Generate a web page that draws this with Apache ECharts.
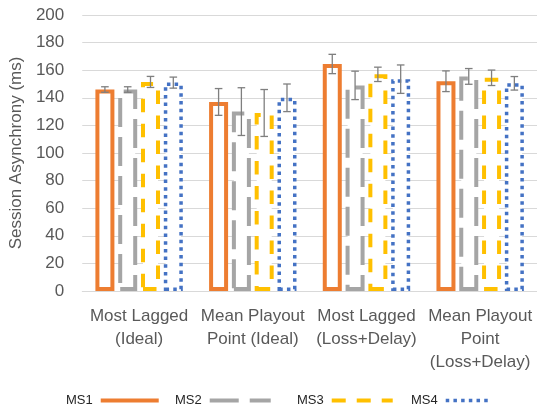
<!DOCTYPE html>
<html>
<head>
<meta charset="utf-8">
<script src="https://cdn.jsdelivr.net/npm/echarts@6/dist/echarts.min.js"></script>
<style>html,body{margin:0;padding:0;background:#fff;}#c{width:537px;height:411px;}</style>
</head>
<body>
<div id="c"></div>
<script>
var categories = ['Most Lagged\n(Ideal)', 'Mean Playout\nPoint (Ideal)', 'Most Lagged\n(Loss+Delay)', 'Mean Playout\nPoint\n(Loss+Delay)'];
var seriesNames = ['MS1', 'MS2', 'MS3', 'MS4'];
var ms1 = [146, 137, 164.5, 152];
var ms2 = [146, 130, 149, 155.5];
var ms3 = [151.5, 129, 157, 154.5];
var ms4 = [151, 140, 153.5, 150.5];
var err1 = [2, 9.7, 7, 7.5];
var err2 = [2, 17.3, 10.3, 5.7];
var err3 = [4, 17, 5.2, 5.6];
var err4 = [4, 10, 10.3, 4.9];
var yTicks = [0, 20, 40, 60, 80, 100, 120, 140, 160, 180, 200];

var values = [ms1, ms2, ms3, ms4];
var errs = [err1, err2, err3, err4];
var colors = ['#ED7D31', '#A5A5A5', '#FFC000', '#4472C4'];
var dashes = ['solid', [29, 10], [13.5, 11.5], [3.5, 4.2]];
var widths = [4, 4, 4, 3.5];
var legendDashes = ['solid', [29, 11], [14, 11], [3.5, 4.2]];
var legendLeft = [61, 170, 292, 406];
var legendIconW = [58, 61, 61, 46];

var BW = 19, GAP_RATIO = 0.2;
var GAP = BW * GAP_RATIO;
var TOTAL = 4 * BW + 3 * GAP;

var series = [];
// dummy line series for legend icons
seriesNames.forEach(function (n, i) {
  series.push({
    name: n, type: 'line', data: [], symbol: 'circle',
    lineStyle: { color: colors[i], width: widths[i], type: legendDashes[i] },
    itemStyle: { color: colors[i], opacity: 0 }
  });
});
seriesNames.forEach(function (n, i) {
  series.push({
    name: n, type: 'bar', data: values[i], barWidth: BW, barGap: (GAP_RATIO * 100) + '%',
    itemStyle: { color: '#ffffff', borderColor: colors[i], borderWidth: widths[i], borderType: dashes[i] },
    emphasis: { disabled: true },
    z: 2
  });
});
seriesNames.forEach(function (n, i) {
  var data = values[i].map(function (v, k) { return [k, v - errs[i][k], v + errs[i][k]]; });
  series.push({
    name: n + ' err', type: 'custom', data: data, z: 5,
    renderItem: function (params, api) {
      var k = api.value(0);
      var lo = api.coord([k, api.value(1)]);
      var hi = api.coord([k, api.value(2)]);
      var x = lo[0] - TOTAL / 2 + i * (BW + GAP) + BW / 2;
      var cap = 3.8;
      var st = { stroke: '#7F7F7F', lineWidth: 1.3 };
      return {
        type: 'group',
        children: [
          { type: 'line', shape: { x1: x, y1: lo[1], x2: x, y2: hi[1] }, style: st },
          { type: 'line', shape: { x1: x - cap, y1: lo[1], x2: x + cap, y2: lo[1] }, style: st },
          { type: 'line', shape: { x1: x - cap, y1: hi[1], x2: x + cap, y2: hi[1] }, style: st }
        ]
      };
    }
  });
});

var legends = seriesNames.map(function (n, i) {
  return {
    data: [n], left: legendLeft[i], top: 389, align: 'right',
    itemWidth: legendIconW[i], itemHeight: 14, selectedMode: false,
    itemStyle: { opacity: 0 },
    lineStyle: { width: widths[i], color: colors[i], type: legendDashes[i] },
    textStyle: { fontFamily: 'Liberation Sans', fontSize: 13, color: '#262626', padding: [0, 3, 0, 0] }
  };
});

var chart = echarts.init(document.getElementById('c'), null, { renderer: 'canvas' });
chart.setOption({
  animation: false,
  backgroundColor: '#ffffff',
  legend: legends,
  grid: { left: 79, right: -2, top: 15, bottom: 120, containLabel: false },
  xAxis: {
    type: 'category', data: categories,
    axisTick: { show: false },
    axisLine: { lineStyle: { color: '#D9D9D9', width: 1 } },
    axisLabel: { interval: 0, fontFamily: 'Liberation Sans', fontSize: 17, color: '#595959', lineHeight: 23, margin: 14 }
  },
  yAxis: {
    type: 'value', min: yTicks[0], max: yTicks[yTicks.length - 1], interval: yTicks[1] - yTicks[0],
    name: 'Session Asynchrony (ms)', nameLocation: 'middle', nameGap: 54, nameRotate: 90,
    nameTextStyle: { fontFamily: 'Liberation Sans', fontSize: 17, color: '#595959' },
    axisLine: { show: false }, axisTick: { show: false },
    axisLabel: { fontFamily: 'Liberation Sans', fontSize: 17, color: '#595959', margin: 18 },
    splitLine: { lineStyle: { color: '#D9D9D9', width: 1 } }
  },
  series: series
});
</script>
</body>
</html>
